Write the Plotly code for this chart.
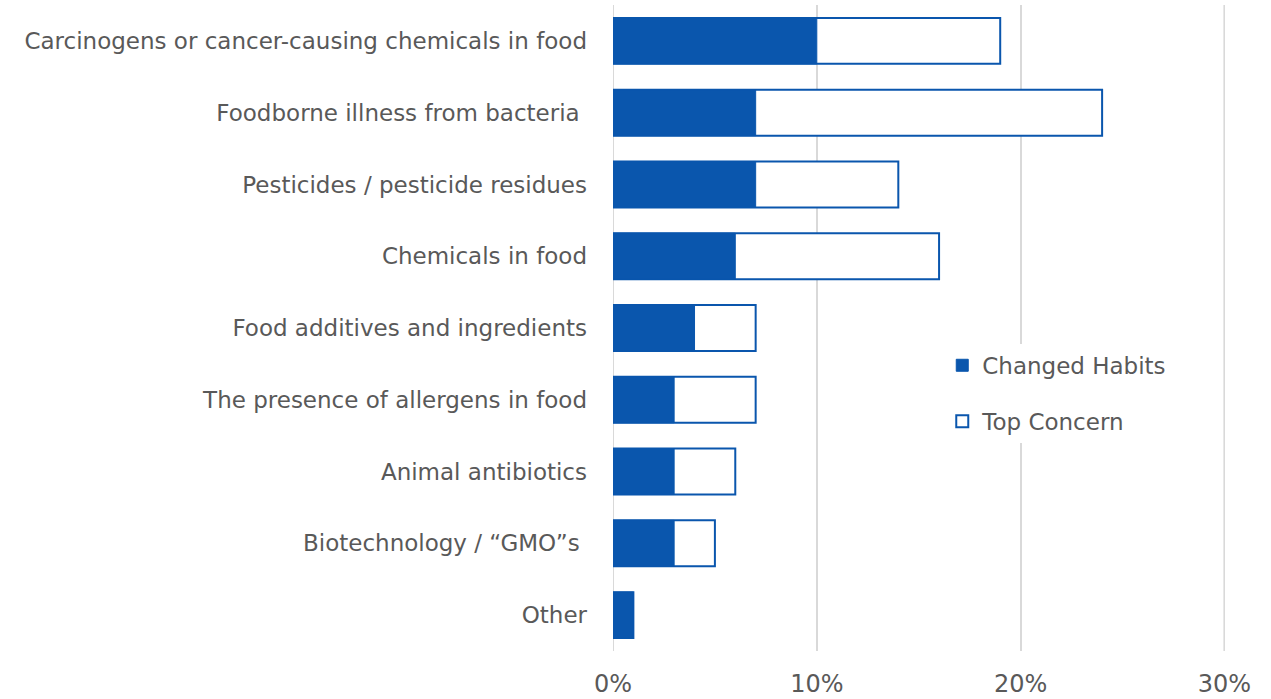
import plotly.graph_objects as go

categories = [
    "Carcinogens or cancer-causing chemicals in food",
    "Foodborne illness from bacteria\u00a0",
    "Pesticides / pesticide residues",
    "Chemicals in food",
    "Food additives and ingredients",
    "The presence of allergens in food",
    "Animal antibiotics",
    "Biotechnology / \u201cGMO\u201ds\u00a0",
    "Other",
]
changed_habits = [0.10, 0.07, 0.07, 0.06, 0.04, 0.03, 0.03, 0.03, 0.01]
top_concern = [0.19, 0.24, 0.14, 0.16, 0.07, 0.07, 0.06, 0.05, 0.01]
x_ticks = [0, 0.1, 0.2, 0.3]
x_tick_labels = ["0%", "10%", "20%", "30%"]

BLUE = "#0A56AD"
TEXT = "#595959"
GRID = "#D9D9D9"
FONT = "DejaVu Sans"

fig = go.Figure()
fig.add_trace(go.Bar(
    y=categories, x=top_concern, orientation="h", name="Top Concern",
    marker=dict(color="white", line=dict(color=BLUE, width=2)),
    legendgroup="b", legendrank=2,
))
fig.add_trace(go.Bar(
    y=categories, x=changed_habits, orientation="h", name="Changed Habits",
    marker=dict(color=BLUE, line=dict(color=BLUE, width=1)),
    legendgroup="a", legendrank=1,
))

fig.update_layout(
    width=1271, height=699,
    margin=dict(l=613, r=46, t=5, b=48, autoexpand=False),
    barmode="overlay", bargap=0.36,
    plot_bgcolor="white", paper_bgcolor="white",
    font=dict(family=FONT, size=23, color=TEXT),
    showlegend=True,
    legend=dict(
        x=0.538, y=0.4755, xanchor="left", yanchor="top",
        bgcolor="white", font=dict(size=23, color=TEXT),
        tracegroupgap=23,
    ),
    xaxis=dict(
        range=[0, 0.3003], tickvals=x_ticks, ticktext=x_tick_labels,
        showgrid=True, gridcolor=GRID, gridwidth=2,
        zeroline=False, showline=False, ticks="", ticklabelstandoff=16,
        tickfont=dict(size=24, color=TEXT), automargin=False,
    ),
    yaxis=dict(
        autorange="reversed", showgrid=False, showline=False, ticks="",
        ticklabelstandoff=25, tickfont=dict(size=23, color=TEXT), automargin=False,
    ),
    shapes=[dict(type="line", xref="x", yref="paper", x0=v, x1=v, y0=0, y1=1,
                 line=dict(color=GRID, width=2), layer="below")
            for v in (x_ticks[0], x_ticks[-1])],
)

fig.write_html("out.html", config={"displayModeBar": False},
               post_script="document.body.style.margin='0px';")
